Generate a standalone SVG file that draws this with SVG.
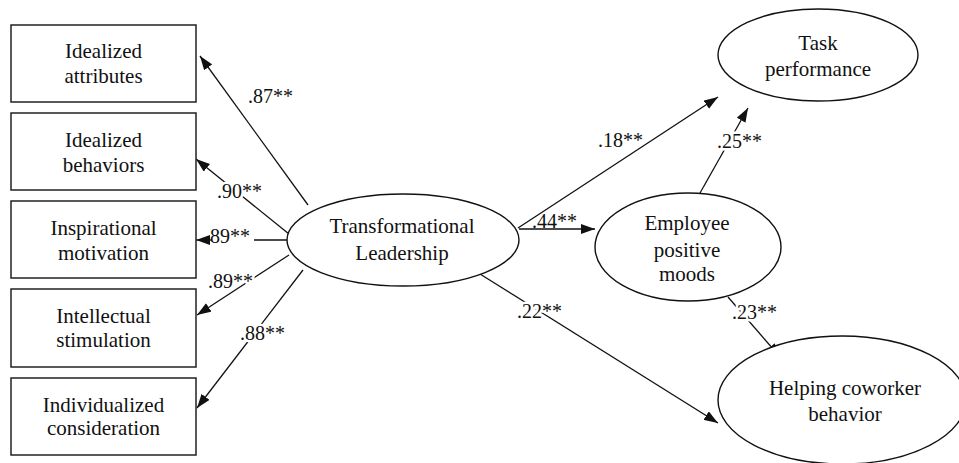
<svg xmlns="http://www.w3.org/2000/svg" width="959" height="463" viewBox="0 0 959 463">
<style>
.box{fill:#fff;stroke:#222;stroke-width:1.5}
.ell{fill:#fff;stroke:#111;stroke-width:1.4}
.nt{font-size:21px;fill:#111;text-anchor:middle}
.lb{font-size:20px;fill:#111}
.halo{stroke:#fff;stroke-width:5;paint-order:stroke;stroke-linejoin:round}
.ln{stroke:#111;stroke-width:1.3;fill:none}
.cn{stroke:#111;stroke-width:1.3;fill:none;marker-end:url(#ah)}
</style>
<defs>
<marker id="ah" markerUnits="userSpaceOnUse" markerWidth="14" markerHeight="10" viewBox="0 0 14 10" refX="14" refY="5" orient="auto">
<path d="M0,0 L14,5 L0,10 Z" fill="#111"/>
</marker>
</defs>
<rect width="959" height="463" fill="#fff"/>
<g font-family="Liberation Serif, Times New Roman, serif">
<g id="connectors">
<line class="cn" x1="308" y1="205" x2="200" y2="56"/>
<line class="cn" x1="289" y1="234" x2="196" y2="159"/>
<line class="ln" x1="287" y1="240" x2="254" y2="240"/>
<line class="cn" x1="212" y1="240" x2="196" y2="240"/>
<line class="cn" x1="289" y1="255" x2="197" y2="315"/>
<line class="cn" x1="303" y1="270" x2="197" y2="408"/>
<line class="cn" x1="518" y1="228" x2="718" y2="97"/>
<line class="cn" x1="519" y1="229" x2="595" y2="229"/>
<line class="cn" x1="480" y1="274" x2="718" y2="423"/>
<line class="cn" x1="700" y1="193" x2="748" y2="108"/>
<line class="cn" x1="728" y1="297" x2="780" y2="357"/>
<text class="lb halo" x="248" y="103">.87**</text>
<text class="lb halo" x="217" y="198">.90**</text>
<text class="lb" x="205" y="243">.89**</text>
<text class="lb halo" x="208" y="288">.89**</text>
<text class="lb halo" x="240" y="340">.88**</text>
<text class="lb halo" x="598" y="147">.18**</text>
<text class="lb" x="532" y="228">.44**</text>
<text class="lb halo" x="517" y="318">.22**</text>
<text class="lb halo" x="717" y="148">.25**</text>
<text class="lb halo" x="732" y="319">.23**</text>
</g>
<g id="idealized-attributes">
<rect class="box" x="11" y="25" width="185" height="77"/>
<text class="nt" x="103.5" y="58">Idealized</text>
<text class="nt" x="103.5" y="83">attributes</text>
</g>
<g id="idealized-behaviors">
<rect class="box" x="11" y="113" width="185" height="77"/>
<text class="nt" x="103.5" y="147">Idealized</text>
<text class="nt" x="103.5" y="172">behaviors</text>
</g>
<g id="inspirational-motivation">
<rect class="box" x="11" y="201" width="185" height="77"/>
<text class="nt" x="103.5" y="235">Inspirational</text>
<text class="nt" x="103.5" y="260">motivation</text>
</g>
<g id="intellectual-stimulation">
<rect class="box" x="11" y="289" width="185" height="78"/>
<text class="nt" x="103.5" y="323">Intellectual</text>
<text class="nt" x="103.5" y="347">stimulation</text>
</g>
<g id="individualized-consideration">
<rect class="box" x="11" y="378" width="185" height="77"/>
<text class="nt" x="103.5" y="412">Individualized</text>
<text class="nt" x="103.5" y="435">consideration</text>
</g>
<g id="transformational-leadership">
<ellipse class="ell" cx="403" cy="240" rx="116" ry="46"/>
<text class="nt" x="402" y="233">Transformational</text>
<text class="nt" x="402" y="260">Leadership</text>
</g>
<g id="task-performance">
<ellipse class="ell" cx="818" cy="55" rx="100" ry="46"/>
<text class="nt" x="818" y="50">Task</text>
<text class="nt" x="818" y="76">performance</text>
</g>
<g id="employee-positive-moods">
<ellipse class="ell" cx="688" cy="247" rx="93" ry="54"/>
<text class="nt" x="687" y="230">Employee</text>
<text class="nt" x="687" y="257">positive</text>
<text class="nt" x="687" y="281">moods</text>
</g>
<g id="helping-coworker-behavior">
<ellipse class="ell" cx="842" cy="400" rx="124" ry="64"/>
<text class="nt" x="845" y="395">Helping coworker</text>
<text class="nt" x="845" y="421">behavior</text>
</g>
</g>
</svg>
